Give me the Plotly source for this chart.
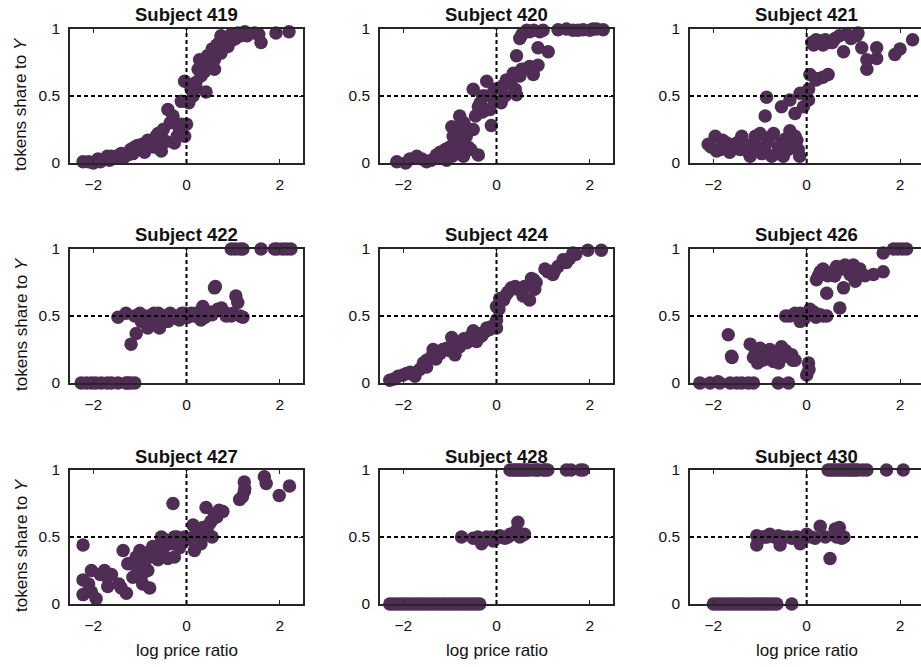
import plotly.graph_objects as go

# ---- data: log price ratio (x) vs share of tokens to Y (y), one block per subject ----
subjects = ["419", "420", "421", "422", "424", "426", "427", "428", "430"]

x_419 = [-2.22, -2.1, -1.9, -1.8, -1.7, -1.61, -1.5, -1.4, -1.26, -1.2, -1.11, -1.0, -0.95, -0.83,
         -0.75, -0.61, -0.54, -0.44, -0.26, -0.4, -0.29, -0.11, -0.04, -0.11, 0.0, -0.04, 0.14,
         0.42, 0.21, 0.31, 0.28, 0.46, 0.6, 0.74, 0.89, 0.74, 0.96, 1.17, 1.46, 1.6, 1.92, 2.2,
         0.6, 0.38, 0.52, 0.8, 1.05, 1.3,
         -2.0, -1.85, -1.65, -1.45, -1.35, -1.15, -1.05, -0.9, -0.85, -0.7, -0.65, -0.55, -0.5,
         -0.35, -0.2, -0.15, 0.05, 0.1, 0.2, 0.25, 0.35, 0.45, 0.55, 0.65, 0.7, 0.85, 1.0, 1.1,
         1.25, 1.55]
y_419 = [0.01, 0.01, 0.03, 0.02, 0.05, 0.05, 0.04, 0.07, 0.06, 0.1, 0.12, 0.1, 0.14, 0.17,
         0.15, 0.22, 0.09, 0.16, 0.15, 0.4, 0.35, 0.29, 0.2, 0.46, 0.29, 0.61, 0.5,
         0.53, 0.56, 0.65, 0.77, 0.72, 0.77, 0.82, 0.87, 0.95, 0.96, 0.95, 0.97, 0.9, 0.97, 0.98,
         0.7, 0.68, 0.74, 0.86, 0.93, 0.95,
         0.0, 0.01, 0.02, 0.06, 0.04, 0.07, 0.13, 0.08, 0.13, 0.12, 0.2, 0.18, 0.25,
         0.3, 0.2, 0.25, 0.45, 0.55, 0.6, 0.7, 0.75, 0.8, 0.85, 0.88, 0.9, 0.93, 0.92, 0.97,
         0.98, 0.96]

x_420 = [-2.14, -1.86, -1.71, -1.5, -1.29, -1.21, -1.07, -1.0, -0.96, -0.93, -0.79, -0.86, -0.71,
         -0.61, -0.39, -0.64, -0.5, -0.5, -0.39, -0.21, -0.25, -0.14, -0.11, -0.04, 0.07, 0.18,
         0.21, 0.36, 0.43, 0.43, 0.54, 0.71, 0.79, 0.89, 0.5, 0.71, 0.93, 0.89, 1.11, 1.32, 1.64,
         1.86, 2.07, 2.29, -0.3, -0.7, 0.3,
         -1.95, -1.6, -1.4, -1.2, -1.1, -0.95, -0.85, -0.8, -0.75, -0.65, -0.55, -0.45, -0.35,
         -0.3, -0.2, -0.05, 0.1, 0.15, 0.3, 0.4, 0.5, 0.6, 0.55, 0.65, 0.8, 1.0, 1.5, 1.75, 2.0,
         2.15]
y_420 = [0.01, 0.03, 0.05, 0.01, 0.06, 0.08, 0.02, 0.12, 0.27, 0.2, 0.35, 0.15, 0.05,
         0.12, 0.06, 0.26, 0.25, 0.55, 0.42, 0.61, 0.5, 0.4, 0.28, 0.46, 0.56, 0.5,
         0.62, 0.67, 0.51, 0.8, 0.7, 0.72, 0.66, 0.73, 0.93, 0.98, 0.98, 0.86, 0.83, 0.995, 0.99,
         0.995, 1.0, 0.995, 0.38, 0.3, 0.6,
         0.0, 0.03, 0.02, 0.04, 0.1, 0.05, 0.08, 0.22, 0.3, 0.2, 0.1, 0.35, 0.45,
         0.5, 0.4, 0.55, 0.45, 0.58, 0.6, 0.55, 0.65, 0.7, 0.96, 0.99, 0.99, 0.99, 1.0, 0.99, 0.99,
         1.0]

x_421 = [-2.11, -1.96, -1.93, -1.71, -1.57, -1.39, -1.43, -1.21, -1.14, -1.0, -0.96, -0.86, -0.71,
         -0.64, -0.54, -0.5, -0.36, -0.21, -0.18, -0.86, -0.89, -0.54, -0.36, -0.25, -0.14, -0.07,
         0.04, 0.04, 0.07, 0.25, 0.46, 0.11, 0.29, 0.46, 0.61, 0.79, 0.86, 1.07, 1.18, 1.29, 1.29,
         1.5, 1.5, 1.89, 2.0, 2.27,
         -2.05, -1.85, -1.8, -1.65, -1.5, -1.3, -1.25, -1.1, -1.05, -0.9, -0.8, -0.75, -0.6,
         -0.45, -0.4, -0.3, -0.25, -0.15, 0.15, 0.2, 0.35, 0.4, 0.55, 0.7, 0.95, 1.1, 0.35, 0.2]
y_421 = [0.14, 0.2, 0.09, 0.15, 0.12, 0.2, 0.1, 0.05, 0.15, 0.22, 0.07, 0.15, 0.22,
         0.07, 0.15, 0.05, 0.24, 0.17, 0.1, 0.49, 0.35, 0.42, 0.47, 0.37, 0.52, 0.42,
         0.55, 0.47, 0.66, 0.63, 0.66, 0.9, 0.91, 0.9, 0.93, 0.83, 0.96, 0.95, 0.86, 0.77, 0.7,
         0.86, 0.78, 0.81, 0.85, 0.92,
         0.12, 0.1, 0.17, 0.08, 0.15, 0.13, 0.08, 0.2, 0.1, 0.12, 0.19, 0.05, 0.12,
         0.18, 0.1, 0.15, 0.2, 0.05, 0.88, 0.92, 0.88, 0.92, 0.9, 0.95, 0.93, 0.97, 0.64, 0.62]

x_422 = [-2.26, -2.04, -1.83, -1.61, -1.47, -1.26, -1.11, -1.47, -1.19, -1.08, -1.11, -0.97, -0.83,
         -0.83, -0.69, -0.58, -0.47, -0.4, -0.26, -0.15, -0.04, 0.03, 0.17, 0.31, 0.35, 0.46,
         0.6, 0.67, 0.81, 0.96, 1.06, 1.1, 1.21, 0.96, 1.21, 1.6, 1.89, 2.06, 2.24, -0.6, 0.2,
         -1.3, -1.0, -0.9, -0.75, -0.7, -0.55, -0.35, -0.2, -0.1, 0.1, 0.25, 0.4, 0.5, 0.55,
         0.75, 0.85, 1.0, 1.15, 0.62, -2.15, -1.95, -1.7, -1.3, -1.2, 1.05, 1.15, 1.95, 2.15]
y_422 = [0.0, 0.0, 0.0, 0.0, 0.0, 0.0, 0.0, 0.49, 0.29, 0.37, 0.5, 0.46, 0.41,
         0.5, 0.47, 0.41, 0.5, 0.46, 0.5, 0.47, 0.52, 0.49, 0.5, 0.47, 0.57, 0.51,
         0.71, 0.55, 0.53, 0.5, 0.65, 0.6, 0.49, 1.0, 1.0, 1.0, 1.0, 1.0, 1.0, 0.52, 0.52,
         0.52, 0.52, 0.47, 0.45, 0.52, 0.48, 0.52, 0.48, 0.52, 0.52, 0.52, 0.49, 0.53, 0.51,
         0.56, 0.5, 0.52, 0.5, 0.72, 0.0, 0.0, 0.0, 0.0, 0.0, 1.0, 1.0, 1.0, 1.0]

x_424 = [-2.29, -2.11, -1.93, -1.75, -1.57, -1.39, -1.36, -1.21, -1.07, -0.96, -0.89, -0.79, -0.64,
         -0.5, -0.43, -0.32, -0.21, -0.11, 0.0, 0.0, 0.0, 0.07, 0.21, 0.32, 0.46, 0.57, 0.71,
         0.75, 0.71, 0.82, 1.04, 1.21, 1.32, 1.43, 1.57, 1.64, 1.96, 2.25, -1.5, -0.7,
         -2.2, -2.0, -1.85, -1.65, -1.5, -1.3, -1.15, -1.0, -0.85, -0.75, -0.55, -0.4, -0.25,
         -0.15, 0.05, 0.15, 0.25, 0.4, 0.6, 0.8, 0.85, 1.1, 1.25, 1.5, 1.7]
y_424 = [0.02, 0.05, 0.07, 0.05, 0.15, 0.2, 0.25, 0.22, 0.26, 0.34, 0.21, 0.27, 0.3,
         0.39, 0.31, 0.35, 0.41, 0.42, 0.41, 0.47, 0.57, 0.63, 0.66, 0.71, 0.7, 0.65, 0.62,
         0.78, 0.73, 0.7, 0.85, 0.81, 0.87, 0.92, 0.93, 0.97, 0.99, 0.99, 0.12, 0.33,
         0.03, 0.06, 0.08, 0.1, 0.17, 0.18, 0.25, 0.24, 0.3, 0.3, 0.35, 0.37, 0.38,
         0.4, 0.55, 0.62, 0.68, 0.72, 0.72, 0.77, 0.75, 0.83, 0.84, 0.9, 0.96]

x_426 = [-2.29, -2.07, -1.86, -1.64, -1.39, -1.14, -0.61, -0.39, -1.68, -1.61, -1.21, -1.14, -1.0,
         -0.93, -0.79, -0.71, -0.54, -0.5, -0.32, -0.25, -0.36, -0.14, -0.14, 0.07, 0.29, 0.43,
         0.0, 0.04, 0.21, 0.29, 0.43, 0.5, 0.64, 0.71, 0.79, 0.82, 0.93, 1.04, 1.14, 1.43, 1.64,
         1.64, 1.86, 2.14, -0.85, 0.6,
         -1.9, -1.5, -1.25, -1.6, -1.1, -1.05, -0.95, -0.85, -0.75, -0.65, -0.6, -0.45, -0.4,
         -0.3, -0.45, -0.25, -0.05, 0.15, 0.2, 0.35, 0.05, 0.25, 0.35, 0.45, 0.55, 0.6, 0.75,
         0.9, 1.0, 1.1, 1.25, 1.0, 1.95, 2.05]
y_426 = [0.0, 0.0, 0.0, 0.0, 0.0, 0.0, 0.0, 0.0, 0.36, 0.2, 0.29, 0.19, 0.26,
         0.2, 0.25, 0.16, 0.27, 0.2, 0.21, 0.17, 0.5, 0.52, 0.46, 0.55, 0.51, 0.5,
         0.06, 0.15, 0.77, 0.83, 0.67, 0.82, 0.87, 0.56, 0.71, 0.88, 0.81, 0.76, 0.85, 0.81, 0.83,
         0.97, 1.0, 1.0, 0.22, 0.8,
         0.01, 0.0, 0.0, 0.19, 0.22, 0.15, 0.17, 0.18, 0.2, 0.22, 0.15, 0.24, 0.2,
         0.17, 0.5, 0.52, 0.48, 0.53, 0.49, 0.5, 0.1, 0.8, 0.85, 0.8, 0.83, 0.8, 0.85,
         0.87, 0.8, 0.8, 0.8, 0.88, 1.0, 1.0]

x_427 = [-2.22, -2.22, -2.22, -2.04, -1.94, -2.04, -1.76, -1.69, -1.61, -1.36, -1.4, -1.29, -1.26,
         -1.15, -1.08, -1.04, -0.94, -0.9, -0.83, -0.79, -0.72, -0.61, -0.54, -0.47, -0.4, -0.29,
         -0.26, -0.26, -0.11, -0.04, 0.14, 0.17, 0.28, 0.31, 0.46, 0.42, 0.53, 0.6, 0.78, 1.14,
         1.24, 1.24, 1.67, 1.71, 1.99, 2.21,
         -2.1, -1.85, -1.7, -1.45, -1.2, -1.1, -1.0, -0.95, -0.85, -0.7, -0.65, -0.55, -0.45,
         -0.35, -0.2, -0.15, 0.05, 0.2, 0.35, 0.5, 0.55, 0.65, 0.7, 1.2, 1.25]
y_427 = [0.44, 0.18, 0.07, 0.25, 0.04, 0.09, 0.25, 0.13, 0.22, 0.4, 0.12, 0.08, 0.3,
         0.2, 0.35, 0.25, 0.15, 0.3, 0.25, 0.12, 0.43, 0.33, 0.5, 0.43, 0.34, 0.75,
         0.35, 0.5, 0.47, 0.5, 0.59, 0.4, 0.5, 0.45, 0.53, 0.72, 0.62, 0.67, 0.69, 0.78,
         0.84, 0.91, 0.95, 0.9, 0.81, 0.88,
         0.15, 0.22, 0.2, 0.15, 0.3, 0.32, 0.4, 0.22, 0.38, 0.35, 0.4, 0.37, 0.48,
         0.45, 0.5, 0.42, 0.48, 0.55, 0.57, 0.6, 0.5, 0.65, 0.7, 0.8, 0.86]

x_428 = [-2.29, -2.15, -2.0, -1.85, -1.7, -1.55, -1.4, -1.25, -1.1, -0.95, -0.8, -0.65, -0.5, -0.36,
         -0.75, -0.5, -0.32, -0.21, -0.07, 0.07, 0.18, 0.29, 0.43, 0.46, 0.54,
         0.29, 0.4, 0.5, 0.6, 0.71, 0.86, 1.0, 1.5, 1.86,
         -2.22, -2.07, -1.92, -1.77, -1.62, -1.47, -1.32, -1.17, -1.02, -0.87, -0.72, -0.57, -0.43,
         -0.4, -0.1, 0.0, 0.12, 0.25, 0.35, 0.5, 0.6,
         0.35, 0.45, 0.55, 0.65, 0.8, 0.9, 1.05, 1.1, 1.6, 1.8]
y_428 = [0.0, 0.0, 0.0, 0.0, 0.0, 0.0, 0.0, 0.0, 0.0, 0.0, 0.0, 0.0, 0.0, 0.0,
         0.5, 0.49, 0.45, 0.5, 0.47, 0.51, 0.49, 0.52, 0.55, 0.61, 0.51,
         1.0, 1.0, 1.0, 1.0, 1.0, 1.0, 1.0, 1.0, 1.0,
         0.0, 0.0, 0.0, 0.0, 0.0, 0.0, 0.0, 0.0, 0.0, 0.0, 0.0, 0.0, 0.0,
         0.5, 0.5, 0.49, 0.5, 0.5, 0.52, 0.5, 0.52,
         1.0, 1.0, 1.0, 1.0, 1.0, 1.0, 1.0, 1.0, 1.0, 1.0]

x_430 = [-2.0, -1.86, -1.71, -1.57, -1.43, -1.29, -1.14, -1.0, -0.86, -0.71, -0.32,
         -1.07, -1.07, -0.79, -0.57, -0.5, -0.32, -0.14, 0.0, 0.18, 0.29, 0.5, 0.61, 0.64, 0.75,
         0.46, 0.57, 0.68, 0.79, 0.9, 1.0, 1.1, 1.29, 1.71, 2.07, -0.9, -0.2,
         -1.93, -1.79, -1.64, -1.5, -1.36, -1.21, -1.07, -0.93, -0.79, -0.64,
         -0.95, -0.85, -0.7, -0.6, -0.4, -0.25, -0.05, 0.1, 0.4, 0.7, 0.8,
         0.52, 0.62, 0.74, 0.85, 0.95, 1.05, 1.2]
y_430 = [0.0, 0.0, 0.0, 0.0, 0.0, 0.0, 0.0, 0.0, 0.0, 0.0, 0.0,
         0.51, 0.44, 0.52, 0.44, 0.5, 0.49, 0.45, 0.52, 0.49, 0.58, 0.34, 0.56, 0.5, 0.49,
         1.0, 1.0, 1.0, 1.0, 1.0, 1.0, 1.0, 1.0, 1.0, 1.0, 0.5, 0.5,
         0.0, 0.0, 0.0, 0.0, 0.0, 0.0, 0.0, 0.0, 0.0, 0.0,
         0.5, 0.5, 0.5, 0.51, 0.5, 0.5, 0.49, 0.5, 0.5, 0.57, 0.5,
         1.0, 1.0, 1.0, 1.0, 1.0, 1.0, 1.0]

xs = [x_419, x_420, x_421, x_422, x_424, x_426, x_427, x_428, x_430]
ys = [y_419, y_420, y_421, y_422, y_424, y_426, y_427, y_428, y_430]

x_ticks = [-2, 0, 2]
y_ticks = [0, 0.5, 1]
y_tick_text = ["0", "0.5", "1"]
x_label = "log price ratio"
y_label = "tokens share to <i>Y</i>"

# ---- layout geometry (pixels in a 921 x 667 canvas) ----
W, H = 921, 667
col_px = [(70, 303), (380, 613), (690, 921)]
row_px = [(29, 163), (249, 383), (470, 604)]
col_range = [[-2.5, 2.5], [-2.5, 2.5], [-2.5, 2.45]]
col_center = [186.5, 496.5, 806.5]

dot_color = "#4f2d54"
axis_color = "#262626"
text_color = "#111111"
font_family = "Liberation Sans, Arial, sans-serif"

fig = go.Figure()
layout = dict(
    width=W, height=H,
    margin=dict(l=0, r=0, t=0, b=0, autoexpand=False),
    paper_bgcolor="white", plot_bgcolor="white",
    showlegend=False,
    font=dict(family=font_family, size=15, color=text_color),
)
annotations = []
shapes = []

for i, name in enumerate(subjects):
    r, c = divmod(i, 3)
    k = "" if i == 0 else str(i + 1)
    xa, ya = "x" + k, "y" + k
    x0, x1 = col_px[c]
    ytop, ybot = row_px[r]
    xdom = [x0 / W, min(x1 / W, 1.0)]
    ydom = [1 - ybot / H, 1 - ytop / H]

    fig.add_trace(go.Scatter(
        x=xs[i], y=ys[i], mode="markers", xaxis=xa, yaxis=ya,
        marker=dict(size=13.5, color=dot_color, line=dict(width=0)),
        cliponaxis=False, hoverinfo="x+y",
    ))

    layout["xaxis" + k] = dict(
        domain=xdom, anchor=ya, range=col_range[c], automargin=False,
        tickvals=x_ticks, ticks="inside", ticklen=4, tickwidth=1, tickcolor=axis_color,
        showline=True, linecolor=axis_color, linewidth=1.5, mirror="ticks",
        showgrid=False, zeroline=False, tickfont=dict(size=15.5, color=text_color),
        ticklabelstandoff=7, fixedrange=True,
    )
    layout["yaxis" + k] = dict(
        domain=ydom, anchor=xa, range=[0, 1], automargin=False,
        tickvals=y_ticks, ticktext=y_tick_text, ticks="inside", ticklen=4, tickwidth=1,
        tickcolor=axis_color,
        showline=True, linecolor=axis_color, linewidth=1.5,
        mirror="ticks" if c < 2 else False,
        showgrid=False, zeroline=False, tickfont=dict(size=15.5, color=text_color),
        ticklabelstandoff=5, fixedrange=True,
    )

    # subject title
    annotations.append(dict(
        text="<b>Subject %s</b>" % name, xref="paper", yref="paper",
        x=col_center[c] / W, y=1 - (ytop - 14) / H,
        xanchor="center", yanchor="middle", showarrow=False,
        font=dict(size=18.5, color=text_color, family=font_family),
    ))

    # dashed reference lines at x = 0 and y = 0.5
    shapes.append(dict(type="line", xref=xa, yref=ya + " domain", x0=0, x1=0, y0=0, y1=1,
                       line=dict(color="black", width=2, dash="4px,3px"), layer="above"))
    shapes.append(dict(type="line", xref=xa + " domain", yref=ya, x0=0, x1=1, y0=0.5, y1=0.5,
                       line=dict(color="black", width=2, dash="4px,3px"), layer="above"))

# y-axis labels on the left column
for r in range(3):
    ytop, ybot = row_px[r]
    annotations.append(dict(
        text=y_label, xref="paper", yref="paper", x=21 / W, y=1 - ((ytop + ybot) / 2 + 8) / H,
        xanchor="center", yanchor="middle", textangle=-90, showarrow=False,
        font=dict(size=17, color=text_color, family=font_family),
    ))

# x-axis labels under the bottom row
for c in range(3):
    annotations.append(dict(
        text=x_label, xref="paper", yref="paper", x=col_center[c] / W, y=1 - 650 / H,
        xanchor="center", yanchor="middle", showarrow=False,
        font=dict(size=17, color=text_color, family=font_family),
    ))

layout["annotations"] = annotations
layout["shapes"] = shapes
fig.update_layout(**layout)

fig.write_html("out.html")
